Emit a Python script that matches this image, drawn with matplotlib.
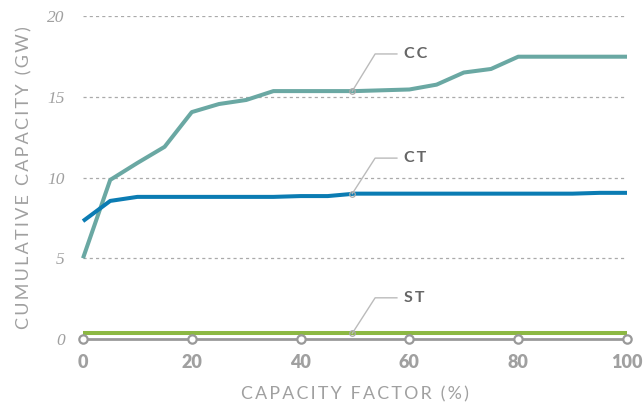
import matplotlib
matplotlib.use("Agg")
import matplotlib.pyplot as plt

# capacity factor (%) on the x axis
cf = [0, 5, 10, 15, 20, 25, 30, 35, 40, 45, 50, 55, 60, 65, 70, 75, 80, 85, 90, 95, 100]

# cumulative capacity (GW)
cc = [5.0, 9.85, 10.9, 11.9, 14.05, 14.55, 14.8, 15.35, 15.35, 15.35, 15.35, 15.4, 15.45, 15.75,
      16.5, 16.72, 17.48, 17.48, 17.48, 17.48, 17.48]
ct = [7.3, 8.55, 8.8, 8.8, 8.8, 8.8, 8.8, 8.8, 8.85, 8.85, 9.0, 9.0, 9.0, 9.0,
      9.0, 9.0, 9.0, 9.0, 9.0, 9.05, 9.05]
st = [0.35] * len(cf)

series = ["CC", "CT", "ST"]
colors = {"CC": "#6aa8a3", "CT": "#0b7cb3", "ST": "#8cb843"}
label_y = {"CC": 17.65, "CT": 11.2, "ST": 2.55}

xticks = [0, 20, 40, 60, 80, 100]
yticks = [0, 5, 10, 15, 20]

GRAY = "#999999"
TXT = "#a0a0a0"
SANS = ["Lato", "DejaVu Sans"]

def spaced(s):
    # letter-spaced caps, like the original
    return "\u2009".join(s)

fig = plt.figure(figsize=(6.44, 4.07), dpi=100)
ax = fig.add_axes([83 / 644, (407 - 339) / 407, (627 - 83) / 644, (339 - 16) / 407])
ax.set_xlim(0, 100)
ax.set_ylim(0, 20)

for y in yticks[1:]:
    ax.axhline(y, color="#aaaaaa", lw=0.9, ls=(0, (2.5, 2.5)), zorder=1)

data = {"CC": cc, "CT": ct, "ST": st}
for name in series:
    ax.plot(cf, data[name], color=colors[name], lw=2.9, solid_capstyle="butt", zorder=3, clip_on=False)

# x axis line with open circle markers
ax.plot([0, 100], [0, 0], color=GRAY, lw=2, zorder=2, clip_on=False)
ax.plot(xticks, [0] * len(xticks), "o", ms=6, mfc="white", mec=GRAY, mew=1.6, zorder=4, clip_on=False)

# leader lines and labels
for name in series:
    yv = data[name][cf.index(50)]
    x0 = 49.5
    ax.plot([x0, 53.7, 57.7], [yv, label_y[name], label_y[name]], color="#bbbbbb", lw=1, zorder=5)
    ax.plot([x0], [yv], "o", ms=4, mfc="none", mec="#aaaaaa", mew=0.9, zorder=6)
    ax.text(59.0, label_y[name], spaced(name), family=SANS, fontsize=11.5,
            fontweight="bold", color="#666666", va="center", ha="left")

for s in ax.spines.values():
    s.set_visible(False)
ax.set_xticks(xticks)
ax.set_xticklabels([str(t) for t in xticks], family=SANS, fontweight="heavy",
                   fontsize=13, color=TXT)
ax.set_yticks(yticks)
ax.set_yticklabels([str(t) for t in yticks], family="Liberation Serif", style="italic",
                   fontsize=12.5, color=TXT)
ax.tick_params(axis="x", length=0, pad=11)
ax.tick_params(axis="y", length=0, pad=13)

ax.set_xlabel(spaced("CAPACITY FACTOR (%)"), family=SANS, fontsize=12.8,
              color=TXT, labelpad=11)
ax.set_ylabel(spaced("CUMULATIVE CAPACITY (GW)"), family=SANS, fontsize=13,
              color=TXT, labelpad=11)

fig.savefig("out.png", dpi=100)
